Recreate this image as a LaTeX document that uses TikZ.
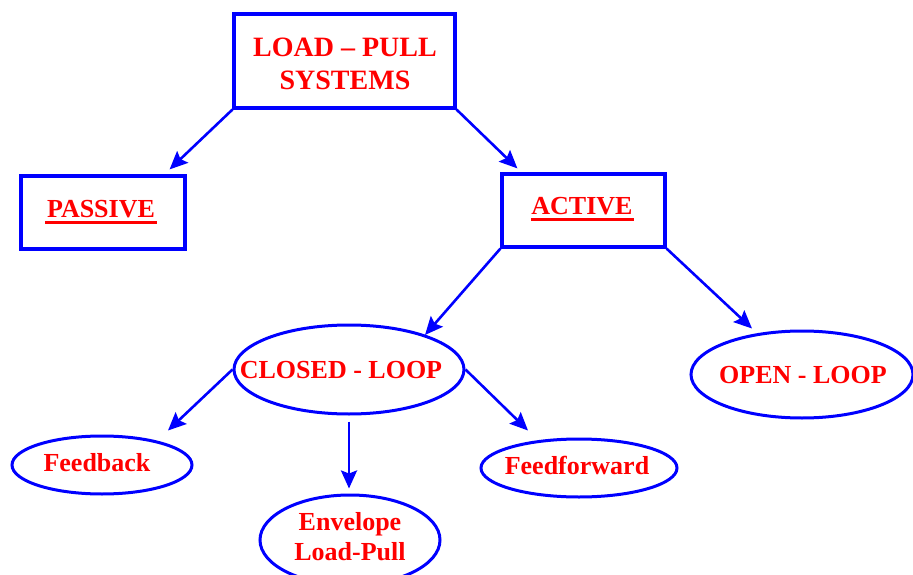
\documentclass[tikz,border=0pt]{standalone}
\usepackage{fontspec}
\setmainfont{Liberation Serif}
\usetikzlibrary{shapes.geometric,arrows.meta}
\definecolor{lineblue}{RGB}{0,0,255}
\definecolor{textred}{RGB}{255,0,0}
\tikzset{
  box/.style={draw=lineblue,line width=3.2pt,rectangle,inner sep=0pt},
  oval/.style={draw=lineblue,line width=3pt,ellipse,inner sep=0pt},
  label/.style={text=textred,font=\bfseries\fontsize{26}{31}\selectfont,
    inner sep=0pt,align=center},
  arr/.style={draw=lineblue,line width=2.6pt,
    -{Stealth[length=18pt,width=16pt,inset=3pt]}},
  uline/.style={draw=textred,line width=3pt}
}
\begin{document}
\begin{tikzpicture}[x=1pt,y=-1pt]
\useasboundingbox (0,0) rectangle (913,575);

% top level
\node[box,minimum width=221pt,minimum height=94pt] (top) at (344.5,61) {};
\node[label,font=\bfseries\fontsize{28}{33}\selectfont] (toptxt) at (345,64)
  {LOAD -- PULL\\SYSTEMS};

% second level boxes
\node[box,minimum width=164pt,minimum height=73pt] (passive) at (103,212.5) {};
\node[label] (passivetxt) at (101,209) {PASSIVE};
\draw[uline] (45,222) -- (157,222);

\node[box,minimum width=163pt,minimum height=73pt] (active) at (583.5,210.5) {};
\node[label] (activetxt) at (582,206) {ACTIVE};
\draw[uline] (531,219) -- (634,219);

% loops
\node[oval,minimum width=230pt,minimum height=89pt] (closed) at (349,369.5) {};
\node[label] (closedtxt) at (341,370) {CLOSED - LOOP};
\node[oval,minimum width=222pt,minimum height=87pt] (open) at (802,374.5) {};
\node[label] (opentxt) at (803,375) {OPEN - LOOP};

% closed-loop variants
\node[oval,minimum width=180pt,minimum height=58pt] (feedback) at (102,465) {};
\node[label] (feedbacktxt) at (97,463) {Feedback};
\node[oval,minimum width=196pt,minimum height=58pt] (feedforward) at (579,468) {};
\node[label] (feedforwardtxt) at (577,465) {Feedforward};
\node[oval,minimum width=180pt,minimum height=90pt] (envelope) at (350,540) {};
\node[label,font=\bfseries\fontsize{26}{30}\selectfont] (envelopetxt) at (350,537)
  {Envelope\\Load-Pull};

% connectors
\draw[arr] (top.south west) -- ([xshift=-17pt,yshift=5pt]passive.north east);
\draw[arr] (top.south east) -- ([xshift=17pt,yshift=4pt]active.north west);
\draw[arr] (active.south west) -- ([xshift=76pt,yshift=34.5pt]closed.center);
\draw[arr] (active.south east) -- ([xshift=-50pt,yshift=1pt]open.north);
\draw[arr] (closed.west) -- ([xshift=66pt,yshift=4pt]feedback.north);
\draw[arr] (closed.east) -- ([xshift=-51pt,yshift=7pt]feedforward.north);
\draw[arr] ([yshift=-6pt]closed.south) -- ([yshift=5pt]envelope.north -| closed.south);
\end{tikzpicture}
\end{document}
